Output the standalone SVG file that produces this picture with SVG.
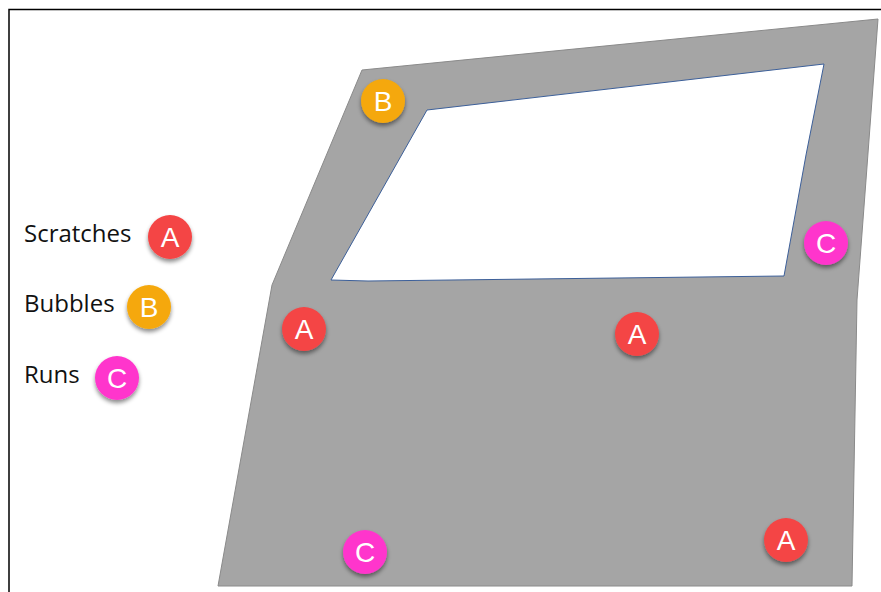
<svg xmlns="http://www.w3.org/2000/svg" width="881" height="592" viewBox="0 0 881 592">
<style>
.lbl{font-family:"Open Sans","Liberation Sans",sans-serif;font-size:24px;fill:#111}
.ltr{font-family:"Liberation Sans",Arial,sans-serif;font-size:28px;fill:#fff;text-anchor:middle}
.a{fill:#F44545}.b{fill:#F5A80A}.c{fill:#FF36CC}
</style>
<defs>
<filter id="sh" x="-40%" y="-40%" width="180%" height="190%">
<feDropShadow dx="0" dy="3" stdDeviation="2.2" flood-color="#000" flood-opacity="0.45"/>
</filter>
</defs>
<rect x="0" y="0" width="881" height="592" fill="#fff"/>
<path d="M9 592 V9.5 H881" fill="none" stroke="#000" stroke-width="1.5"/>
<g id="door">
<path d="M362 70 L878 19 L866 180 L857 300 L852 586 L218 586 L272 285 Z" fill="#A5A5A5" stroke="#8a8a8a" stroke-width="1"/>
<path d="M427 110 L824 64 L806 155 L784 276 L368 281 L331 280 Z" fill="#fff" stroke="#3C5F99" stroke-width="1"/>
</g>
<g id="legend">
<text class="lbl" x="24" y="242">Scratches</text>
<text class="lbl" x="24" y="312">Bubbles</text>
<text class="lbl" x="24" y="383">Runs</text>
</g>
<g id="marker-legend-a"><circle class="a" cx="170" cy="237" r="22" filter="url(#sh)"/><text class="ltr" x="170" y="247">A</text></g>
<g id="marker-legend-b"><circle class="b" cx="149" cy="307" r="22" filter="url(#sh)"/><text class="ltr" x="149" y="317">B</text></g>
<g id="marker-legend-c"><circle class="c" cx="117" cy="378" r="22" filter="url(#sh)"/><text class="ltr" x="117" y="388">C</text></g>
<g id="marker-b1"><circle class="b" cx="383" cy="101" r="22" filter="url(#sh)"/><text class="ltr" x="383" y="111">B</text></g>
<g id="marker-a1"><circle class="a" cx="304" cy="329" r="22" filter="url(#sh)"/><text class="ltr" x="304" y="339">A</text></g>
<g id="marker-a2"><circle class="a" cx="637" cy="334" r="22" filter="url(#sh)"/><text class="ltr" x="637" y="344">A</text></g>
<g id="marker-c1"><circle class="c" cx="826" cy="243" r="22" filter="url(#sh)"/><text class="ltr" x="826" y="253">C</text></g>
<g id="marker-c2"><circle class="c" cx="365" cy="552" r="22" filter="url(#sh)"/><text class="ltr" x="365" y="562">C</text></g>
<g id="marker-a3"><circle class="a" cx="786" cy="540" r="22" filter="url(#sh)"/><text class="ltr" x="786" y="550">A</text></g>
<g id="connectors"></g>
</svg>
